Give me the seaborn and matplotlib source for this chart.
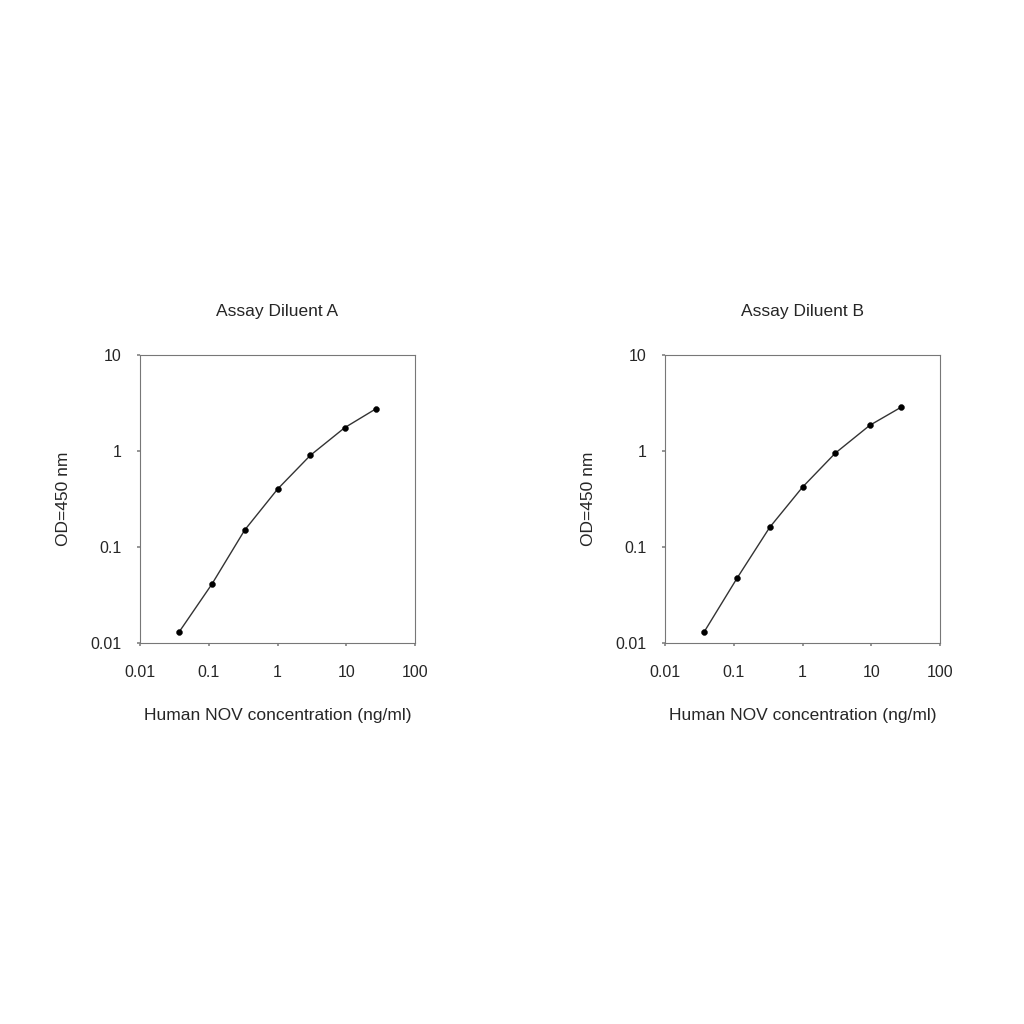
import matplotlib
matplotlib.use("Agg")
import matplotlib.pyplot as plt
import seaborn as sns
import pandas as pd
from matplotlib.ticker import FixedLocator, FixedFormatter, NullLocator

sns.set_theme(style="ticks")
plt.rcParams['font.family'] = ['Liberation Sans', 'DejaVu Sans']

conc = [0.037, 0.111, 0.333, 1.0, 3.0, 9.5, 27.0]
od_a = [0.013, 0.041, 0.15, 0.40, 0.90, 1.75, 2.75]
od_b = [0.013, 0.047, 0.16, 0.42, 0.95, 1.85, 2.85]
titles = ["Assay Diluent A", "Assay Diluent B"]
xticks = [0.01, 0.1, 1, 10, 100]
xlabels = ["0.01", "0.1", "1", "10", "100"]
yticks = [0.01, 0.1, 1, 10]
ylabels = ["0.01", "0.1", "1", "10"]

fig = plt.figure(figsize=(10.24, 10.24), dpi=100)
lefts = [140/1024, 665/1024]
for left, od, title in zip(lefts, [od_a, od_b], titles):
    ax = fig.add_axes([left, 1-643/1024, 275/1024, 288/1024])
    df = pd.DataFrame({"x": conc, "y": od})
    sns.lineplot(data=df, x="x", y="y", ax=ax, color="#333333", linewidth=1.0)
    sns.scatterplot(data=df, x="x", y="y", ax=ax, color="black", s=18, edgecolor="black", zorder=3)
    ax.set_xscale("log"); ax.set_yscale("log")
    ax.set_xlim(0.01, 100); ax.set_ylim(0.01, 10)
    ax.xaxis.set_major_locator(FixedLocator(xticks))
    ax.xaxis.set_major_formatter(FixedFormatter(xlabels))
    ax.yaxis.set_major_locator(FixedLocator(yticks))
    ax.yaxis.set_major_formatter(FixedFormatter(ylabels))
    ax.xaxis.set_minor_locator(NullLocator()); ax.yaxis.set_minor_locator(NullLocator())
    ax.tick_params(labelsize=11.5, length=2, color="#888888")
    ax.tick_params(axis="x", pad=14)
    ax.tick_params(axis="y", pad=11)
    for s in ax.spines.values():
        s.set_color("#777777"); s.set_linewidth(0.8)
    ax.set_title(title, fontsize=12.5, pad=28)
    ax.set_xlabel("Human NOV concentration (ng/ml)", fontsize=12.5, labelpad=20)
    ax.set_ylabel("OD=450 nm", fontsize=12.5, labelpad=14)
fig.savefig("out.png", dpi=100)
